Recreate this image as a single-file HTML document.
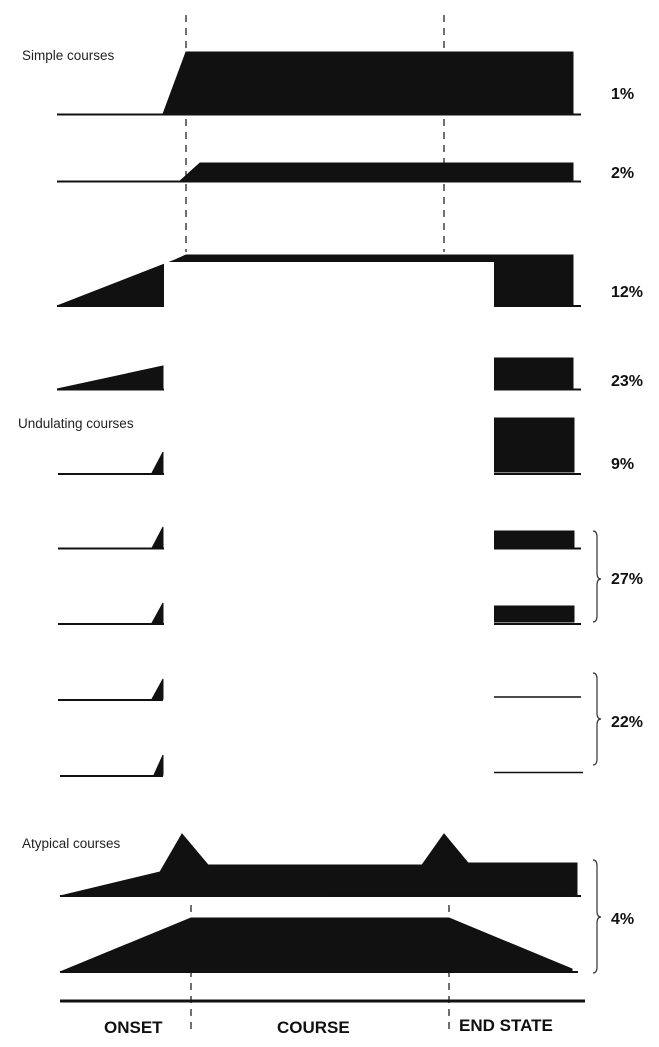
<!DOCTYPE html>
<html><head><meta charset="utf-8"><style>
body{margin:0;background:#fff;}
svg{display:block;font-family:"Liberation Sans",sans-serif;}
.t{font-size:13.5px;fill:#222}
.p{font-size:16px;font-weight:bold;fill:#111}
.a{font-size:17px;font-weight:bold;fill:#111}
</style></head><body>
<svg width="659" height="1047" viewBox="0 0 659 1047">
<g stroke="#222" stroke-width="1.3" stroke-dasharray="7,6">
<line x1="186" y1="15" x2="186" y2="252"/><line x1="444" y1="15" x2="444" y2="252"/>
<line x1="191" y1="905" x2="191" y2="1030"/><line x1="449" y1="905" x2="449" y2="1030"/>
</g>
<text class="t" x="22" y="60">Simple courses</text>
<text class="t" x="18" y="428">Undulating courses</text>
<text class="t" x="22" y="848">Atypical courses</text>
<g fill="#111" stroke="#111" stroke-width="1">
<line x1="57" y1="114.5" x2="581" y2="114.5" stroke-width="2"/>
<polygon points="163,114 186,52 573,52 573,114"/>
<line x1="57" y1="181.5" x2="581" y2="181.5" stroke-width="2"/>
<polygon points="180,181 200,163 573,163 573,181"/>
<line x1="57" y1="306" x2="581" y2="306" stroke-width="2"/>
<polygon points="57,306 175,260 186,255 573,255 573,306"/>
<line x1="57" y1="389.5" x2="581" y2="389.5" stroke-width="2"/>
<polygon points="57,389 163,366 163,389"/>
<rect x="494" y="358" width="79" height="31"/>
<line x1="58" y1="474" x2="581" y2="474" stroke-width="2"/>
<polygon points="152,473 163,452 163,473"/><rect x="494" y="418" width="80" height="54"/>
<line x1="58" y1="548.5" x2="581" y2="548.5" stroke-width="2"/>
<polygon points="152,548 163,527 163,548"/><rect x="494" y="531" width="80" height="16"/>
<line x1="58" y1="624" x2="581" y2="624" stroke-width="2"/>
<polygon points="152,623 163,603 163,623"/><rect x="494" y="606" width="80" height="16"/>
<line x1="58" y1="700" x2="163" y2="700" stroke-width="2"/>
<polygon points="152,699 163,679 163,699"/><line x1="494" y1="697" x2="581" y2="697" stroke-width="1.5"/>
<line x1="60" y1="776" x2="163" y2="776" stroke-width="2"/>
<polygon points="154,775 163,755 163,775"/><line x1="494" y1="772.5" x2="583" y2="772.5" stroke-width="1.5"/>
<line x1="60" y1="896" x2="581" y2="896" stroke-width="2"/>
<polygon points="60,896 160,872 182,834 208,865 422,865 444,834 468,863 577,863 577,895"/>
<line x1="60" y1="972" x2="578" y2="972" stroke-width="2"/>
<polygon points="60,972 191,918 449,918 572,969 572,972"/>
<line x1="60" y1="1001" x2="585" y2="1001" stroke-width="3"/>
</g>
<g fill="none" stroke="#333" stroke-width="1.2">
<path d="M593,531 q4,0 4,6 v36 q0,6 4,6 q-4,0 -4,6 v31 q0,6 -4,6"/>
<path d="M593,673 q4,0 4,6 v34 q0,6 4,6 q-4,0 -4,6 v34 q0,6 -4,6"/>
<path d="M593,860 q4,0 4,6 v45 q0,6 4,6 q-4,0 -4,6 v44 q0,6 -4,6"/>
</g>
<g class="p">
<text class="p" x="611" y="99">1%</text>
<text class="p" x="611" y="178">2%</text>
<text class="p" x="611" y="297">12%</text>
<text class="p" x="611" y="386">23%</text>
<text class="p" x="611" y="469">9%</text>
<text class="p" x="611" y="584">27%</text>
<text class="p" x="611" y="727">22%</text>
<text class="p" x="611" y="924">4%</text>
</g>
<text class="a" x="104" y="1033">ONSET</text>
<text class="a" x="277" y="1033">COURSE</text>
<text class="a" x="459" y="1031">END STATE</text>
<rect x="164" y="262" width="330" height="523" fill="#fff"/>
</svg>
</body></html>
